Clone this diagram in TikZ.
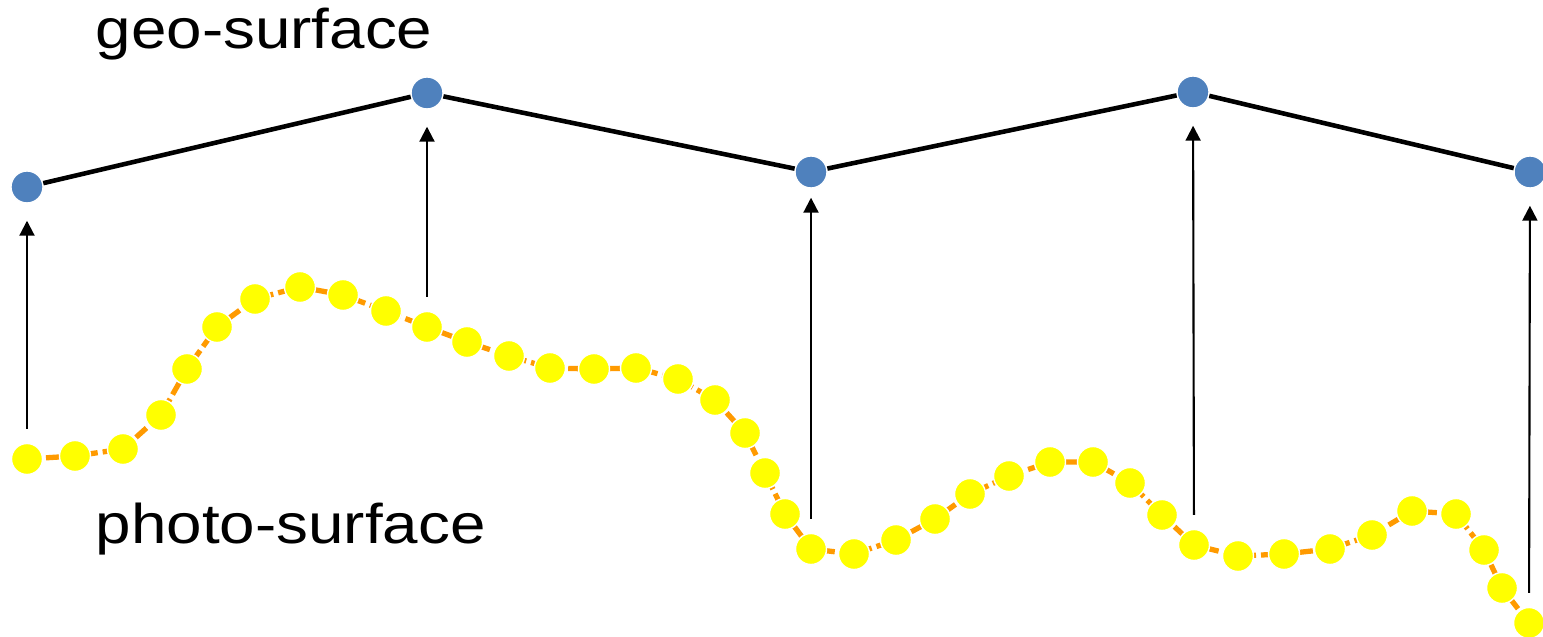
\documentclass[tikz,border=0pt]{standalone}
\usepackage{fontspec}
\setmainfont{Liberation Sans}
\usepackage{tikz}
\usetikzlibrary{arrows.meta, backgrounds}
\definecolor{geoblue}{HTML}{4F81BD}
\definecolor{photoyellow}{HTML}{FFFF00}
\definecolor{traceorange}{HTML}{FF9A00}
\tikzset{
  liftarr/.style={-{Triangle[width=0.15cm, length=0.15cm]}, line width=0.6pt, black, shorten <=0.14cm, shorten >=0.17cm},
  geopt/.style={circle, fill=geoblue, draw=white, line width=0.4pt, minimum size=0.32cm, inner sep=0pt},
  photopt/.style={circle, fill=photoyellow, draw=white, line width=0.4pt, minimum size=0.31cm, inner sep=0pt},
}
\begin{document}
\begin{tikzpicture}[x=0.01cm, y=-0.01cm,
    surf/.style={line width=1.3pt, black},
    trace/.style={line width=1.5pt, traceorange, dash pattern=on 0.14cm off 0.05cm},
    lbl/.style={anchor=base west, inner sep=0pt, font=\fontsize{15.9}{18}\selectfont, xscale=1.14, transform shape}]
  \useasboundingbox (0,0) rectangle (1543,637);

  % Surface labels
  \node[lbl] (geolbl) at (95,49) {geo-surface};
  \node[lbl] (photolbl) at (95,543) {photo-surface};

  % Geo-surface samples
  \node[geopt] (g1) at (27,187) {};
  \node[geopt] (g2) at (427,93) {};
  \node[geopt] (g3) at (811,172) {};
  \node[geopt] (g4) at (1193,92) {};
  \node[geopt] (g5) at (1530,172) {};
  \draw[surf] (g1) -- (g2) -- (g3) -- (g4) -- (g5);

  % Photo-surface samples
  \foreach \pos [count=\i] in {(27,459), (75,456), (123,449), (161,415), (187,369), (217,327),
      (255,299), (300,287), (343,295), (386,311), (427,327), (467,342), (509,356), (550,368),
      (594,369), (636,368), (678,379), (715,400), (745,433), (765,473), (785,514), (811,549),
      (854,554), (896,540), (935,519), (970,494), (1009,476), (1050,462), (1093,462), (1130,483),
      (1162,515), (1194,545), (1238,556), (1284,554), (1330,549), (1372,535), (1412,511),
      (1456,514), (1484,550), (1502,588), (1529,623)}
    \node[photopt] (p\i) at \pos {};
  \begin{scope}[on background layer]
    \draw[trace] (p1.center) \foreach \i in {2,...,41} { -- (p\i.center) };
  \end{scope}

  % Lifting photo points to the geo-surface
  \draw[liftarr] (p1) -- (g1);
  \draw[liftarr] (p11) -- (g2);
  \draw[liftarr, shorten >=0.09cm] (p22) -- (g3);
  \draw[liftarr] (p32) -- (g4);
  \draw[liftarr] (p41) -- (g5);
\end{tikzpicture}
\end{document}
